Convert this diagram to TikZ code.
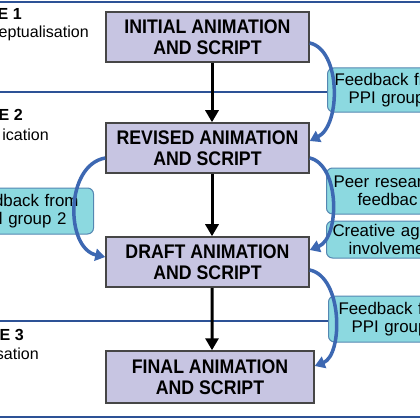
\documentclass[tikz,border=0pt]{standalone}
\usepackage{fontspec}
\setmainfont{Liberation Sans}
\newfontfamily\boxfont[FakeStretch=0.9]{Liberation Sans}
\usetikzlibrary{positioning, calc, arrows.meta}
\definecolor{cBox}{RGB}{199,197,226}
\definecolor{cEdge}{RGB}{70,70,70}
\definecolor{cFb}{RGB}{140,217,224}
\definecolor{cFbEdge}{RGB}{84,135,178}
\definecolor{cArc}{RGB}{61,104,178}
\definecolor{cRule}{RGB}{45,82,150}
\newdimen\px \px=0.025cm

\tikzset{
  mainbox/.style={draw=cEdge, line width=1.5\px, fill=cBox, align=center, inner sep=0pt,
    minimum height=50\px, minimum width=203\px, font=\boxfont\fontsize{14}{14.6}\selectfont\bfseries},
  fbbox/.style={draw=cFbEdge, line width=1\px, fill=cFb, rounded corners=6\px, align=left,
    text width=130\px, inner xsep=0pt, inner ysep=0pt, font=\fontsize{12}{12.8}\selectfont},
  phaselbl/.style={inner sep=0pt, font=\fontsize{11.4}{12.8}\selectfont},
  hrule/.style={cRule, line width=2\px},
  flow/.style={-{Triangle[width=0.325cm,length=0.3cm]}, line width=3\px, black},
  fbarc/.style={-{Triangle[width=0.3cm,length=0.25cm]}, line width=3.5\px, cArc}
}

\begin{document}
\begin{tikzpicture}[x=0.025cm, y=-0.025cm]
   \useasboundingbox (0,0) rectangle (420,420);

   % phase rules
   \draw[hrule] (0,2) -- (420,2);
   \draw[hrule] (0,92) -- (420,92);
   \draw[hrule] (0,321) -- (420,321);
   \draw[hrule] (0,417) -- (420,417);

   % phase labels
   \node[phaselbl, anchor=base east, font=\fontsize{11.4}{12.8}\selectfont\bfseries] (s1) at (22,20) {E 1};
   \node[phaselbl, anchor=base east] (s1t) at (89,38) {eptualisation};
   \node[phaselbl, anchor=base east, font=\fontsize{11.4}{12.8}\selectfont\bfseries] (s2) at (23,120) {E 2};
   \node[phaselbl, anchor=base east] (s2t) at (49,140) {ication};
   \node[phaselbl, anchor=base east, font=\fontsize{11.4}{12.8}\selectfont\bfseries] (s3) at (24,340) {E 3};
   \node[phaselbl, anchor=base east] (s3t) at (39,359) {sation};

   % main steps
   \node[mainbox] (init) at (207.5,37) {INITIAL ANIMATION\\AND SCRIPT};
   \node[mainbox] (rev) at (207.5,148) {REVISED ANIMATION\\AND SCRIPT};
   \node[mainbox] (draft) at (207.5,262) {DRAFT ANIMATION\\AND SCRIPT};
   \node[mainbox, minimum width=208\px, minimum height=52\px] (final) at (210,377) {FINAL ANIMATION\\AND SCRIPT};

   % feedback boxes
   \node[fbbox, anchor=west, minimum height=44\px] (ppi1) at (327,90)
     {\hspace*{7\px}Feedback fr\\\hspace*{21\px}PPI group};
   \node[fbbox, anchor=west, minimum height=46\px] (peer) at (326,191)
     {\hspace*{7\px}Peer resear\\\hspace*{31\px}feedbac};
   \node[fbbox, anchor=west, minimum height=37\px] (agency) at (326,239.5)
     {\hspace*{6\px}Creative age\\\hspace*{22\px}involveme};
   \node[fbbox, anchor=west, minimum height=46\px] (ppi3) at (328,319)
     {\hspace*{10\px}Feedback f\\\hspace*{23\px}PPI group};
   \node[fbbox, anchor=east, align=right, minimum height=46\px] (ppi2) at (94,211)
     {dback from\kern15\px\\l group 2\kern27\px};

   % main flow
   \draw[flow] ($(init.south)+(4.5,0)$) -- ($(rev.north)+(4.5,0)$);
   \draw[flow] ($(rev.south)+(4.5,0)$) -- ($(draft.north)+(4.5,0)$);
   \draw[flow] ($(draft.south)+(4.5,0)$) -- ($(final.north)+(2,0)$);

   % feedback loops
   \draw[fbarc] ($(init.east)+(0,6)$) .. controls (341,50) and (341,125) .. ($(rev.east)+(0,-7)$);
   \draw[fbarc] ($(rev.east)+(0,10)$) .. controls (340,165) and (340,238) .. ($(draft.east)+(0,-12)$);
   \draw[fbarc] ($(draft.east)+(0,8)$) .. controls (343,277) and (343,355) .. ($(final.east)+(0,-11)$);
   \draw[fbarc] ($(rev.west)+(0,10)$) .. controls (65,165) and (65,248) .. ($(draft.west)+(0,-5)$);
\end{tikzpicture}
\end{document}
